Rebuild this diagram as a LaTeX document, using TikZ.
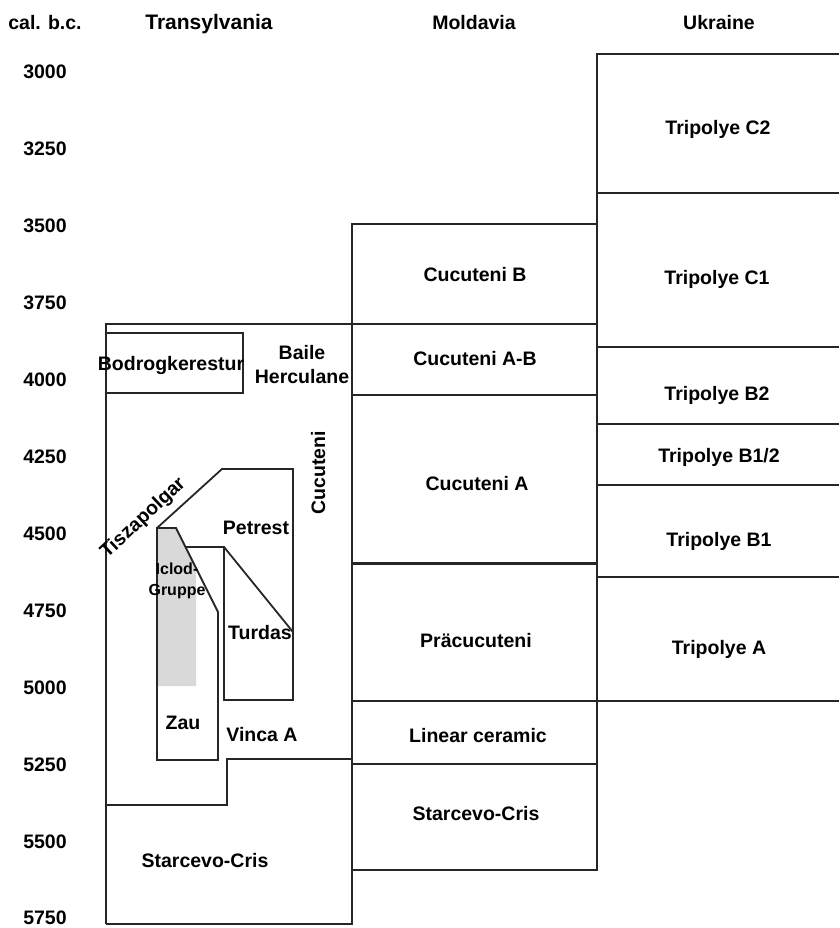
\documentclass[tikz,border=0pt]{standalone}
\usepackage{fontspec}
\setmainfont{Liberation Sans}
\begin{document}
\begin{tikzpicture}[x=1pt,y=-1pt,
  every node/.style={font=\fontsize{19.5}{24}\selectfont\bfseries, inner sep=0pt,
    text height=14pt, text depth=0pt},
  frame/.style={line width=1.8pt, draw=black!85},
  small/.style={font=\fontsize{16}{21}\selectfont\bfseries, text height=11.5pt}]
  \useasboundingbox (0,0) rectangle (839,928);

  % headings
  \node (cal) at (45,23) {cal. b.c.};
  \node[font=\fontsize{21}{24}\selectfont\bfseries] (transh) at (209,23) {Transylvania};
  \node (moldh) at (474,23) {Moldavia};
  \node (ukrh) at (719,23) {Ukraine};

  % time scale
  \foreach \yr [count=\i from 0] in {3000,3250,...,5750}
    \node (y\yr) at (45,{72+76.9*\i}) {\yr};

  % Transylvania
  \fill[gray!30] (157,528) -- (176,528) -- (196,568) -- (196,686) -- (157,686) -- cycle;
  \draw[frame] (106,924) -- (106,324) -- (352,324);
  \draw[frame] (352,224) -- (352,924) -- (106,924);
  \draw[frame] (106,333) rectangle (243,393);
  \draw[frame] (157,528) -- (222,469) -- (293,469) -- (293,700) -- (224,700) -- (224,547) -- (186,547);
  \draw[frame] (224,547) -- (293,632);
  \draw[frame] (157,760) -- (157,528) -- (176,528) -- (218,612) -- (218,760) -- cycle;
  \draw[frame] (106,805) -- (227,805) -- (227,759) -- (352,759);

  \node (bodrog) at (171,363) {Bodrogkerestur};
  \node[align=center] (baile) at (302,376) {Baile\\Herculane};
  \node[rotate=90] (cucv) at (318,473) {Cucuteni};
  \node[rotate=43] (tisza) at (142,517) {Tiszapolgar};
  \node (petrest) at (256,527) {Petrest};
  \node[small, align=center] (iclod) at (177,590) {Iclod-\\Gruppe};
  \node (turdas) at (260,632) {Turdas};
  \node (zau) at (183,722) {Zau};
  \node (vinca) at (262,734) {Vinca A};
  \node (starT) at (205,860) {Starcevo-Cris};

  % Moldavia
  \draw[frame] (352,224) rectangle (597,870);
  \foreach \y in {324,395,701,764}
    \draw[frame] (352,\y) -- (597,\y);
  \draw[frame, line width=3pt] (352,563) -- (597,563);

  \node (cucB) at (475,274) {Cucuteni B};
  \node (cucAB) at (475,358) {Cucuteni A-B};
  \node (cucA) at (477,483) {Cucuteni A};
  \node (precuc) at (476,640) {Präcucuteni};
  \node (linear) at (478,735) {Linear ceramic};
  \node (starM) at (476,813) {Starcevo-Cris};

  % Ukraine
  \draw[frame] (839,54) -- (597,54) -- (597,701) -- (839,701);
  \foreach \y in {193,347,424,485,577}
    \draw[frame] (597,\y) -- (839,\y);

  \node (triC2) at (718,128) {Tripolye C2};
  \node (triC1) at (717,277) {Tripolye C1};
  \node (triB2) at (717,393) {Tripolye B2};
  \node (triB12) at (719,455) {Tripolye B1/2};
  \node (triB1) at (719,539) {Tripolye B1};
  \node (triA) at (719,647) {Tripolye A};
\end{tikzpicture}
\end{document}
